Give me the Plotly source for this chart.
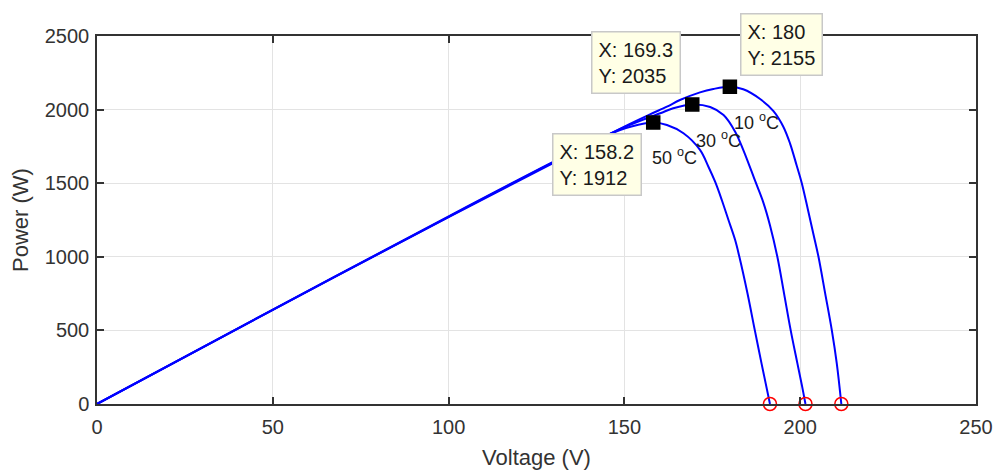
import plotly.graph_objects as go

# P-V curves of the PV array at three cell temperatures
temps = ["10", "30", "50"]

v10 = [0, 50, 100, 130, 150, 157.3, 162.1, 165.8, 171.5, 175.3, 180.0, 183.8, 188.6,
       192.4, 195.2, 197.1, 199.0, 200.4, 202.2, 203.8, 205.2, 207.1, 209.0, 210.4, 211.7]
p10 = [0, 640, 1270, 1640, 1885, 1968, 2020, 2065, 2117, 2140, 2155, 2138, 2072,
       1990, 1884, 1771, 1620, 1505, 1320, 1150, 1000, 752, 500, 276, 0]

v30 = [0, 50, 100, 130, 150, 160.2, 163.9, 169.3, 174.4, 178.2, 181.5, 183.8, 186.2,
       187.6, 189.5, 191.4, 193.5, 195.4, 197.3, 199.2, 200.5, 201.5]
p30 = [0, 640, 1272, 1645, 1880, 1975, 2009, 2035, 2018, 1963, 1850, 1726, 1578,
       1490, 1370, 1215, 1000, 752, 500, 276, 125, 0]

v50 = [0, 50, 100, 130, 145, 152, 158.2, 162.1, 166.8, 171.5, 173.9, 175.8, 177.7,
       179.6, 181.5, 182.7, 185.0, 187.1, 189.0, 191.4]
p50 = [0, 641, 1275, 1648, 1825, 1885, 1912, 1895, 1839, 1726, 1612, 1510, 1386,
       1250, 1114, 1000, 752, 500, 276, 0]

# maximum power points (data tips) and open-circuit voltages
mpp_v = [180.0, 169.3, 158.2]
mpp_p = [2155, 2035, 1912]
voc = [211.7, 201.5, 191.4]

x_ticks = [0, 50, 100, 150, 200, 250]
y_ticks = [0, 500, 1000, 1500, 2000, 2500]

FONT = "Liberation Sans, Arial, sans-serif"
AX = "#333333"
BLUE = "#0000ff"

fig = go.Figure()

for v, p in [(v10, p10), (v30, p30), (v50, p50)]:
    fig.add_trace(go.Scatter(x=v, y=p, mode="lines",
                             line=dict(color=BLUE, width=2, shape="spline", smoothing=1.0),
                             hoverinfo="skip", showlegend=False))

fig.add_trace(go.Scatter(x=voc, y=[0] * len(voc), mode="markers",
                         marker=dict(symbol="circle-open", size=13, color="#ff0000",
                                     line=dict(width=1.5, color="#ff0000")),
                         cliponaxis=False, showlegend=False))

fig.add_trace(go.Scatter(x=mpp_v, y=mpp_p, mode="markers",
                         marker=dict(symbol="square", size=13, color="#000000",
                                     line=dict(width=1.5, color="#000000")),
                         showlegend=False))

# data-tip boxes: (x anchor, y anchor, x shift, y shift)
tip_place = [("left", "bottom", 10, 11),
             ("right", "bottom", -11, 10),
             ("right", "top", -11, -10)]
for vx, py, (xa, ya, xs, ys) in zip(mpp_v, mpp_p, tip_place):
    vs = f"{vx:g}"
    fig.add_annotation(x=vx, y=py, xref="x", yref="y", showarrow=False,
                       text=f"X: {vs}<br>Y: {py}", align="left",
                       xanchor=xa, yanchor=ya, xshift=xs, yshift=ys,
                       font=dict(family=FONT, size=20, color="#1a1a1a"),
                       bgcolor="#ffffe6", bordercolor="#c8c8c8", borderwidth=1.5,
                       borderpad=6)

# temperature labels beside each curve
label_pos = [(187.5, 1918), (176.8, 1795), (164.3, 1680)]
for t, (lx, ly) in zip(temps, label_pos):
    fig.add_annotation(x=lx, y=ly, xref="x", yref="y", showarrow=False,
                       text=f"{t} <sup>o</sup>C",
                       font=dict(family=FONT, size=18, color="#1a1a1a"))

axis_common = dict(showline=True, linecolor=AX, linewidth=1.5, mirror="ticks",
                   ticks="inside", ticklen=7, tickwidth=1.5, tickcolor=AX,
                   showgrid=True, gridcolor="#e3e3e3", gridwidth=1.2,
                   zeroline=False, tickfont=dict(family=FONT, size=20, color=AX),
                   automargin=False, fixedrange=True)

fig.update_xaxes(range=[0, 250], tickvals=x_ticks, ticktext=[str(t) for t in x_ticks],
                 ticklabelstandoff=4,
                 title=dict(text="Voltage (V)", standoff=16,
                            font=dict(family=FONT, size=22, color=AX)),
                 **axis_common)
fig.update_yaxes(range=[0, 2500], tickvals=y_ticks, ticktext=[str(t) for t in y_ticks],
                 ticklabelstandoff=2,
                 title=dict(text="Power (W)", standoff=10,
                            font=dict(family=FONT, size=22, color=AX)),
                 **axis_common)

fig.update_layout(width=995, height=470, margin=dict(l=97, r=19, t=36, b=66),
                  paper_bgcolor="white", plot_bgcolor="white",
                  font=dict(family=FONT, color=AX))

fig.write_html("out.html")
